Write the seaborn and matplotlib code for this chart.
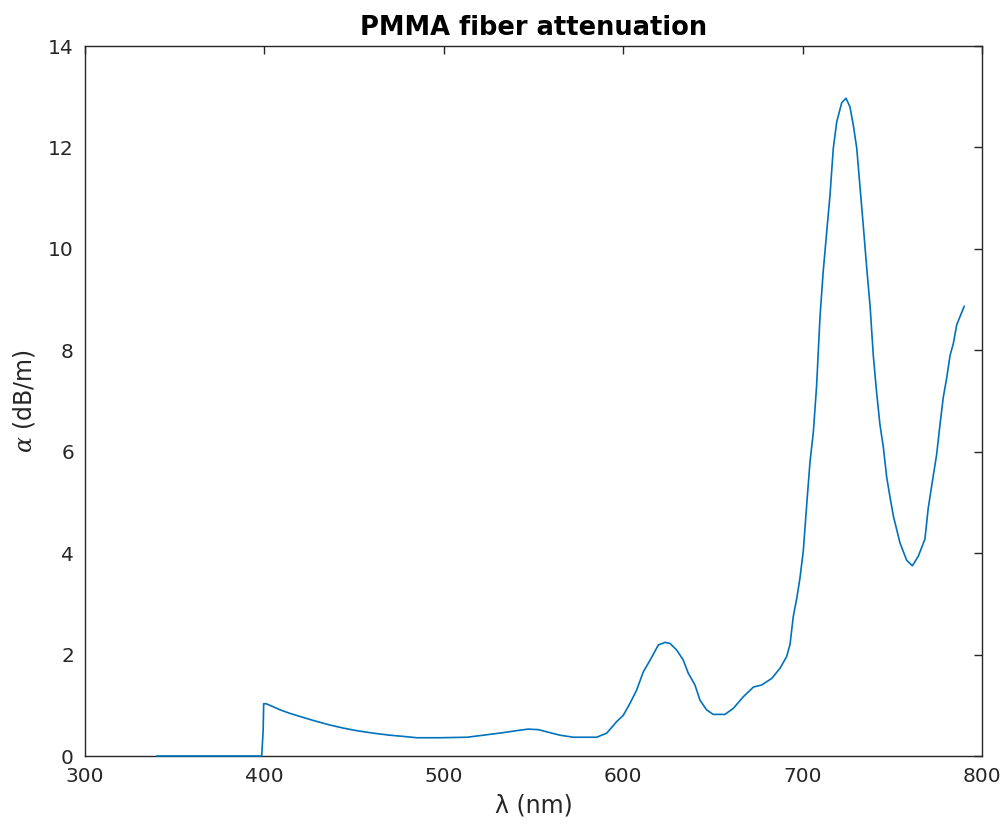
import matplotlib
matplotlib.use("Agg")
import matplotlib.pyplot as plt
import seaborn as sns
import pandas as pd

wavelength_nm = [340, 398.5, 399.3, 399.6, 401, 405, 408.7, 414.3, 419.8, 427.3, 436.6, 444, 451.4,
                 460.7, 470, 479.3, 485, 498, 513, 522, 533, 540.6, 547, 552.7, 559.2, 564.8, 572.2,
                 585.2, 590.8, 596.4, 600, 603.8, 607.5, 611.2, 615, 619.6, 623.3, 626.1, 629.8,
                 633.5, 636.3, 640, 642.8, 646.5, 650.2, 656.7, 661.4, 667, 672.6, 677.2, 682.8,
                 687.4, 691.1, 693, 694.8, 696.7, 698.5, 700.4, 702.3, 704.1, 706, 707.8, 709.7,
                 711.5, 713.4, 715.3, 717.1, 719, 721.8, 724.2, 726.4, 728.3, 730.2, 732, 733.8,
                 735.7, 737.6, 739.4, 741.3, 743.1, 745, 746.9, 748.7, 750.6, 754.3, 758, 761.2,
                 764.5, 768.2, 770, 772, 774.7, 776.6, 778.4, 780.3, 782.2, 784, 785.9, 787.7, 790.1]
attenuation_dBm = [0, 0, 0.5, 1.03, 1.03, 0.97, 0.91, 0.84, 0.78, 0.70, 0.61, 0.55, 0.50,
                   0.45, 0.41, 0.38, 0.36, 0.36, 0.37, 0.41, 0.46, 0.50, 0.53, 0.52, 0.46, 0.41, 0.37,
                   0.37, 0.45, 0.68, 0.80, 1.04, 1.30, 1.66, 1.89, 2.19, 2.24, 2.22, 2.09,
                   1.89, 1.63, 1.40, 1.10, 0.91, 0.82, 0.82, 0.94, 1.17, 1.36, 1.40, 1.53,
                   1.73, 1.96, 2.2, 2.75, 3.1, 3.5, 4.05, 4.96, 5.79, 6.39, 7.3, 8.66,
                   9.56, 10.32, 11.07, 11.98, 12.5, 12.88, 12.97, 12.8, 12.43, 11.98, 11.22, 10.47,
                   9.64, 8.88, 7.9, 7.15, 6.54, 6.09, 5.49, 5.11, 4.73, 4.2, 3.86, 3.75,
                   3.94, 4.28, 4.88, 5.34, 5.94, 6.54, 7.07, 7.45, 7.9, 8.13, 8.5, 8.66, 8.87]

x_ticks = [300, 400, 500, 600, 700, 800]
y_ticks = [0, 2, 4, 6, 8, 10, 12, 14]
title = "PMMA fiber attenuation"
x_label = "λ (nm)"
y_label = r"$\alpha$ (dB/m)"

sns.set_theme(style="white")
plt.rcParams['font.family'] = ['DejaVu Sans']
plt.rcParams['mathtext.fontset'] = 'dejavuserif'

df = pd.DataFrame({"wl": wavelength_nm, "att": attenuation_dBm})

fig = plt.figure(figsize=(10.06, 8.26), dpi=100)
ax = fig.add_axes([85/1006, 70/826, (982-85)/1006, (756-46)/826])
sns.lineplot(data=df, x="wl", y="att", ax=ax, color="#0072BD", linewidth=1.2,
             estimator=None, sort=False, zorder=3)
for ln in ax.lines:
    ln.set_clip_on(False)

dark = "#262626"
ax.set_xlim(300, 800)
ax.set_ylim(0, 14)
ax.set_xticks(x_ticks)
ax.set_yticks(y_ticks)
ax.tick_params(direction="in", top=True, right=True, length=6, width=1,
               color=dark, labelcolor=dark, labelsize=14.5, pad=8)
for s in ax.spines.values():
    s.set_color(dark)
    s.set_linewidth(1)
ax.set_xlabel(x_label, fontsize=17, color=dark, labelpad=5)
ax.set_ylabel(y_label, fontsize=17, color=dark, labelpad=8)
ax.set_title(title, fontsize=18.5, fontweight="bold", color="black", pad=8)

fig.savefig("out.png", dpi=100)
